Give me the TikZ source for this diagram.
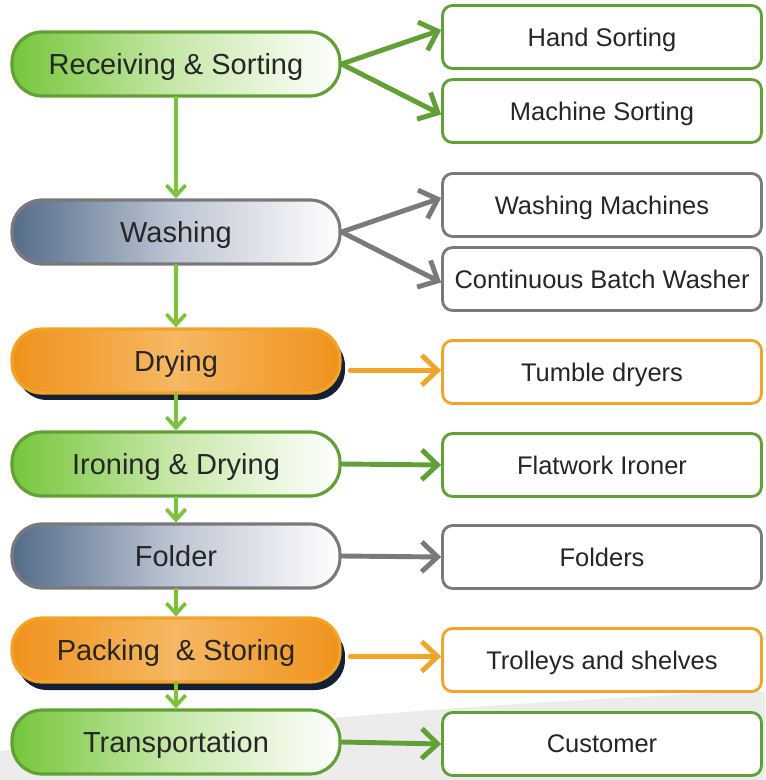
\documentclass[tikz,border=0pt]{standalone}
\usepackage{fontspec}
\setmainfont{Liberation Sans}
\usetikzlibrary{arrows.meta,positioning,shapes.geometric,calc,backgrounds}
\usepackage{xcolor}

\definecolor{grnline}{RGB}{96,160,52}
\definecolor{grnfill}{RGB}{118,198,58}
\definecolor{grnmid}{RGB}{200,232,170}
\definecolor{grnarr}{RGB}{122,196,58}
\definecolor{slate}{RGB}{84,108,138}
\definecolor{slatemid}{RGB}{190,198,212}
\definecolor{greyline}{RGB}{122,122,122}
\definecolor{orgfill}{RGB}{240,146,28}
\definecolor{orgmid}{RGB}{246,184,98}
\definecolor{orgline}{RGB}{242,164,40}
\definecolor{navy}{RGB}{22,32,52}

\begin{document}
\begin{tikzpicture}[
    x=0.02cm, y=-0.02cm,
    pill/.style={rounded corners=0.6cm, minimum width=6.56cm, minimum height=1.28cm,
      line width=1.8pt, text depth=0pt, font=\fontsize{16.5}{20}\selectfont, text=black!85},
    greenpill/.style={pill, draw=grnline, left color=grnfill, right color=white, middle color=grnmid},
    greypill/.style={pill, draw=greyline, left color=slate, right color=white, middle color=slatemid},
    orangepill/.style={pill, draw=orgline, left color=orgfill, right color=orgfill, middle color=orgmid},
    shadowpill/.style={pill, draw=none, fill=navy},
    box/.style={rectangle, rounded corners=0.2cm, draw, fill=white, line width=1.6pt, text depth=0pt,
      minimum width=6.38cm, minimum height=1.26cm, font=\fontsize{14.5}{18}\selectfont, text=black!85},
    arr/.style={-{Straight Barb[length=9pt, width=17pt]}, line width=2.8pt, line cap=round},
    down/.style={-{Straight Barb[length=6pt, width=11pt]}, line width=2.1pt, line cap=round, draw=grnarr}
  ]
  \useasboundingbox (0,0) rectangle (765,780);

  %% Background swoosh
  \fill[gray!15] (0,750) .. controls (300,716) and (550,698) .. (765,690)
    -- (765,780) -- (0,780) -- cycle;
  \draw[white, line width=1.2pt] (0,750) .. controls (300,716) and (550,698) .. (765,690);

  %% Shadows of the orange steps
  \node[shadowpill] at (181,368) {};
  \node[shadowpill] at (181,658) {};

  %% Process steps
  \node[greenpill]  (recv)  at (176,64)  {Receiving \& Sorting};
  \node[greypill]   (wash)  at (176,232) {Washing};
  \node[orangepill] (dry)   at (176,361) {Drying};
  \node[greenpill]  (iron)  at (176,464) {Ironing \& Drying};
  \node[greypill]   (fold)  at (176,556) {Folder};
  \node[orangepill] (pack)  at (176,650) {Packing \ \& Storing};
  \node[greenpill]  (trans) at (176,742) {Transportation};

  %% Equipment
  \node[box, draw=grnline]  (hand)    at (602,37)  {Hand Sorting};
  \node[box, draw=grnline]  (machine) at (602,111) {Machine Sorting};
  \node[box, draw=greyline] (washm)   at (602,205) {Washing Machines};
  \node[box, draw=greyline] (batch)   at (602,279) {Continuous Batch Washer};
  \node[box, draw=orgline]  (tumble)  at (602,372) {Tumble dryers};
  \node[box, draw=grnline]  (flat)    at (602,465) {Flatwork Ironer};
  \node[box, draw=greyline] (folders) at (602,557) {Folders};
  \node[box, draw=orgline]  (trolley) at (602,660) {Trolleys and shelves};
  \node[box, draw=grnline]  (cust)    at (602,744) {Customer};

  %% Flow down the steps
  \draw[down] (recv)  -- (wash);
  \draw[down] (wash)  -- (dry);
  \draw[down] (dry)   -- (iron);
  \draw[down] (iron)  -- (fold);
  \draw[down] (fold)  -- (pack);
  \draw[down] (pack)  -- (trans);

  %% Steps to equipment
  \draw[arr, grnline]  (recv.east) -- ([yshift=4pt]hand.west);
  \draw[arr, grnline]  (recv.east) -- ([yshift=-2pt]machine.west);
  \draw[arr, greyline] (wash.east) -- ([yshift=4pt]washm.west);
  \draw[arr, greyline] (wash.east) -- ([yshift=-2pt]batch.west);
  \draw[arr, orgline]  ($(tumble.west -| dry.east)+(5pt,1pt)$) -- ([yshift=1pt]tumble.west);
  \draw[arr, grnline]  (iron.east) -- (flat.west);
  \draw[arr, greyline] (fold.east) -- (folders.west);
  \draw[arr, orgline]  ($(trolley.west -| pack.east)+(5pt,2pt)$) -- ([yshift=2pt]trolley.west);
  \draw[arr, grnline]  (trans.east) -- (cust.west);

\end{tikzpicture}
\end{document}
